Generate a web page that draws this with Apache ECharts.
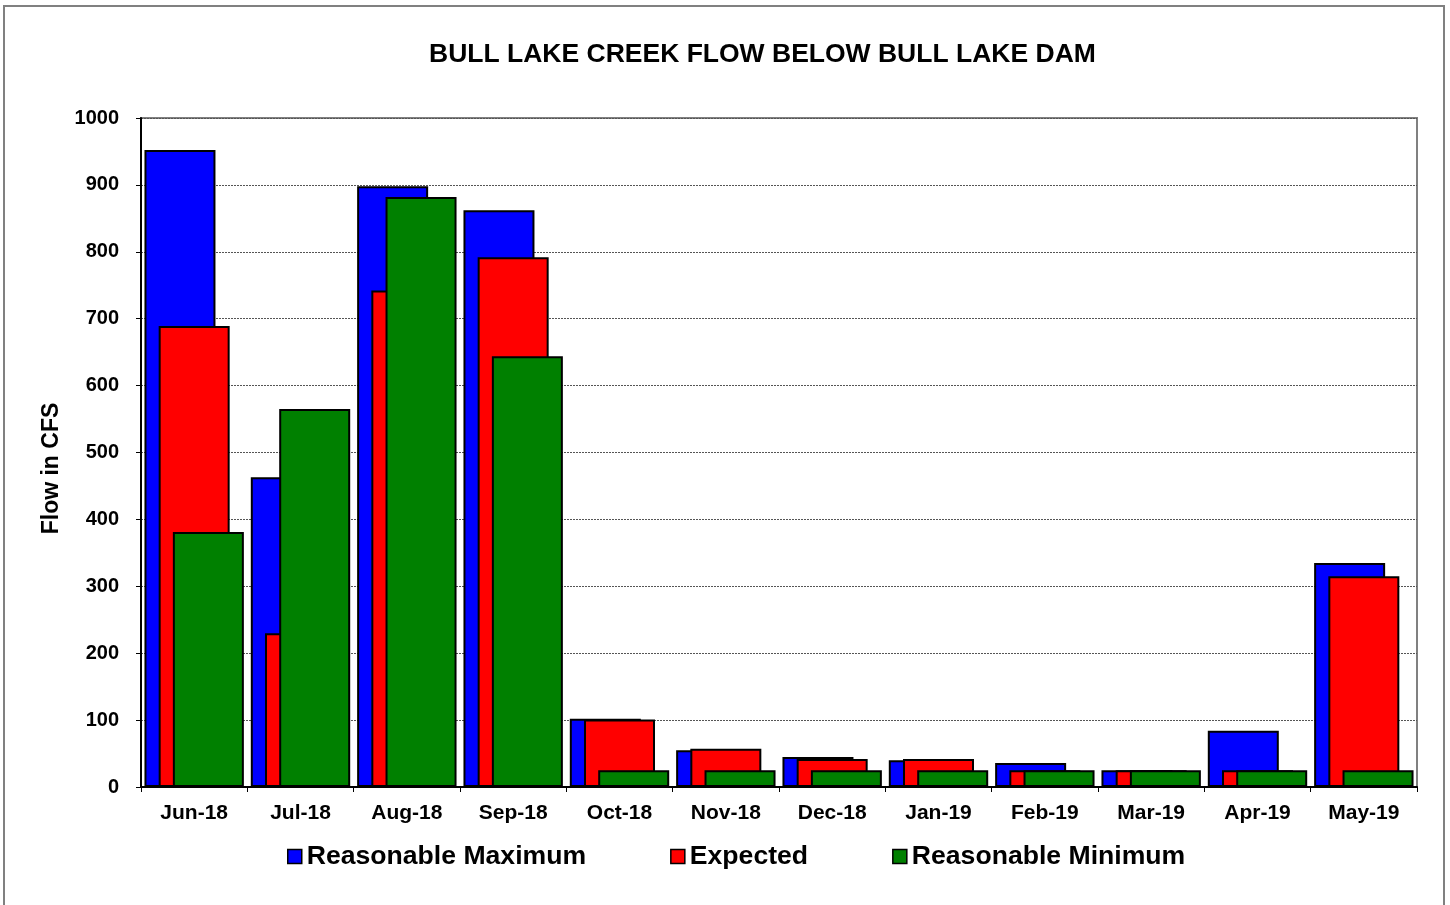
<!DOCTYPE html>
<html>
<head>
<meta charset="utf-8">
<script src="https://cdn.jsdelivr.net/npm/echarts@6/dist/echarts.min.js"></script>
<style>
html,body{margin:0;padding:0;background:#fff;}
#chart{width:1450px;height:905px;}
</style>
</head>
<body>
<div id="chart"></div>
<script>
const categories = ['Jun-18','Jul-18','Aug-18','Sep-18','Oct-18','Nov-18','Dec-18','Jan-19','Feb-19','Mar-19','Apr-19','May-19'];
const reasonableMax = [952, 463, 898, 862, 102, 55, 45, 40, 36, 25, 84, 335];
const expected = [689, 230, 742, 792, 101, 57, 42, 42, 25, 25, 25, 315];
const reasonableMin = [381, 565, 882, 644, 25, 25, 25, 25, 25, 25, 25, 25];
const yTicks = {min: 0, max: 1000, interval: 100};

const chart = echarts.init(document.getElementById('chart'), null, {renderer: 'canvas'});
const FONT = 'Liberation Sans, Arial, sans-serif';
const barStyle = (c) => ({color: c, borderColor: '#000', borderWidth: 2});

chart.setOption({
  backgroundColor: '#fff',
  animation: false,
  textStyle: {fontFamily: FONT},
  graphic: [{
    type: 'rect', z: -1,
    shape: {x: 4, y: 6, width: 1440, height: 910},
    style: {fill: 'none', stroke: '#808080', lineWidth: 2}
  }],
  title: {
    text: 'BULL LAKE CREEK FLOW BELOW BULL LAKE DAM',
    left: 424, top: 36,
    textStyle: {fontFamily: FONT, fontSize: 26.5, fontWeight: 'bold', color: '#000'}
  },
  legend: {
    left: 287, top: 843, padding: 0,
    itemWidth: 14, itemHeight: 14, itemGap: 84,
    icon: 'rect',
    itemStyle: {borderColor: '#000', borderWidth: 1.5},
    textStyle: {fontFamily: FONT, fontSize: 26.6, fontWeight: 'bold', color: '#000'},
    data: ['Reasonable Maximum', 'Expected', 'Reasonable Minimum']
  },
  grid: {
    left: 141, right: 33, top: 118, bottom: 118,
    show: true, borderColor: '#808080', borderWidth: 2, backgroundColor: '#fff'
  },
  xAxis: {
    type: 'category', data: categories,
    axisLine: {lineStyle: {color: '#000', width: 2}},
    axisTick: {show: true, interval: 0, length: 5, lineStyle: {color: '#000'}},
    axisLabel: {fontFamily: FONT, fontSize: 21, fontWeight: 'bold', color: '#000', margin: 16, interval: 0},
    splitLine: {show: false}
  },
  yAxis: {
    type: 'value', min: yTicks.min, max: yTicks.max, interval: yTicks.interval,
    name: 'Flow in CFS', nameLocation: 'middle', nameGap: 77,
    nameTextStyle: {fontFamily: FONT, fontSize: 23, fontWeight: 'bold', color: '#000', padding: [0, 32, 0, 0]},
    axisLine: {show: true, lineStyle: {color: '#000', width: 2}},
    axisTick: {show: true, length: 5, lineStyle: {color: '#000'}},
    axisLabel: {fontFamily: FONT, fontSize: 20, fontWeight: 'bold', color: '#000', margin: 22, formatter: (v) => String(v)},
    splitLine: {show: true, lineStyle: {color: '#555', type: [2, 1], width: 1}}
  },
  series: [
    {name: 'Reasonable Maximum', type: 'bar', data: reasonableMax, barWidth: 71, barGap: '-80%', itemStyle: barStyle('#0000ff')},
    {name: 'Expected', type: 'bar', data: expected, barWidth: 71, barGap: '-80%', itemStyle: barStyle('#ff0000')},
    {name: 'Reasonable Minimum', type: 'bar', data: reasonableMin, barWidth: 71, barGap: '-80%', itemStyle: barStyle('#008000')}
  ]
});
</script>
</body>
</html>
